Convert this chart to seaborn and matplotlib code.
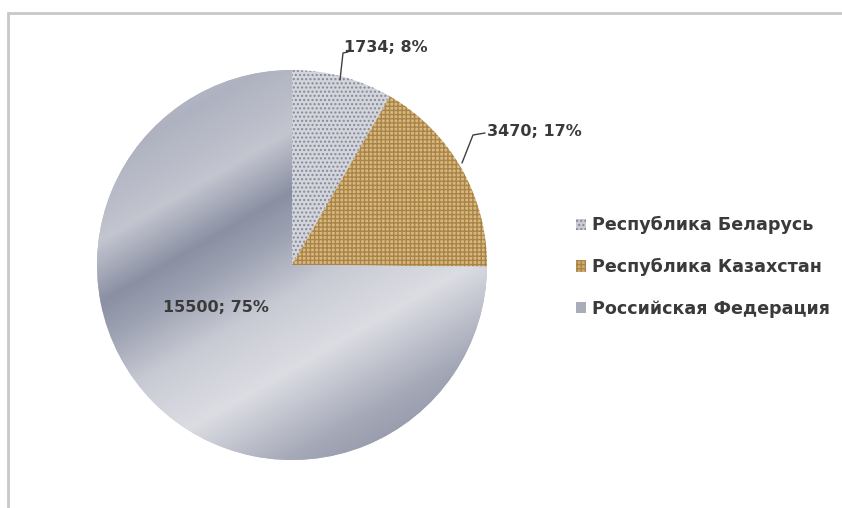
import numpy as np
import pandas as pd
import matplotlib
matplotlib.use("Agg")
import matplotlib.pyplot as plt
import seaborn as sns
from matplotlib.colors import LinearSegmentedColormap
from matplotlib.patches import Rectangle
from matplotlib.lines import Line2D

countries = ["Республика Беларусь", "Республика Казахстан", "Российская Федерация"]
values = [1734, 3470, 15500]
percents = [8, 17, 75]

df = pd.DataFrame({"country": countries, "value": values, "pct": percents})

sns.set_theme(style="white")
plt.rcParams['font.family'] = ['DejaVu Sans']
plt.rcParams['hatch.linewidth'] = 1.0

W, H = 842, 508
fig = plt.figure(figsize=(W / 100, H / 100), dpi=100)
fig.patch.set_facecolor("white")

# outer frame
frame = Rectangle((8 / W, -0.1), 1.2, (508 - 13) / H + 0.1, transform=fig.transFigure,
                  fill=False, edgecolor="#c8c8c8", linewidth=2.0)
fig.patches.append(frame)

cx, cy, R = 292, 265, 195
L = 215
ax = fig.add_axes([(cx - L) / W, (H - cy - L) / H, 2 * L / W, 2 * L / H])

face = ["#d3d5dc", "#d8b87f", "#b9bcc8"]
hatches = ["....", "++++", None]
hcol = ["#868995", "#a98448", None]
wedges, _ = ax.pie(df["value"], startangle=90, counterclock=False, radius=1,
                   colors=face, wedgeprops=dict(linewidth=0))
for w, h, hc in zip(wedges, hatches, hcol):
    if h:
        w.set_hatch(h)
        w.set_edgecolor(hc)
        w.set_linewidth(0)

lim = L / R
ax.set_aspect("equal")
ax.axis("off")

# metallic gradient for the largest slice
n = 400
xs = np.linspace(-1, 1, n)
X, Y = np.meshgrid(xs, xs)
ang = np.deg2rad(30)
t = -X * np.sin(ang) + Y * np.cos(ang)
t = (t - t.min()) / (t.max() - t.min())
cmap = LinearSegmentedColormap.from_list("metal", [
    (0.0, "#7f8598"), (0.18, "#a3a7b6"), (0.33, "#dcdde3"), (0.45, "#c9cbd4"),
    (0.55, "#9fa4b4"), (0.62, "#8a90a3"), (0.72, "#c3c5cf"), (0.85, "#aeb2c0"),
    (1.0, "#d0d2da")])
im = ax.imshow(t, extent=(-1, 1, -1, 1), origin="lower", cmap=cmap, zorder=1.5)
im.set_clip_path(wedges[2])
ax.set_xlim(-lim, lim)
ax.set_ylim(-lim, lim)

tc = "#3a3a3a"
fs = 11.5
def px(x, y):
    return ((x - cx) / R, (cy - y) / R)

# Belarus label
p0, p1, p2 = px(340, 80), px(343, 53), px(348, 52)
ax.add_line(Line2D([p0[0], p1[0], p2[0]], [p0[1], p1[1], p2[1]], color="#404040", lw=1.0, clip_on=False))
tx, ty = px(344, 47)
ax.text(tx, ty, f"{df.value[0]}; {df.pct[0]}%", ha="left", va="center", fontsize=fs,
        color=tc, fontweight="bold", clip_on=False)

# Kazakhstan label
p0, p1, p2 = px(462, 163), px(473, 135), px(485, 133)
ax.add_line(Line2D([p0[0], p1[0], p2[0]], [p0[1], p1[1], p2[1]], color="#404040", lw=1.0, clip_on=False))
tx, ty = px(487, 131)
ax.text(tx, ty, f"{df.value[1]}; {df.pct[1]}%", ha="left", va="center", fontsize=fs,
        color=tc, fontweight="bold", clip_on=False)

# Russia label
tx, ty = px(216, 307)
ax.text(tx, ty, f"{df.value[2]}; {df.pct[2]}%", ha="center", va="center", fontsize=fs,
        color=tc, fontweight="bold", zorder=3)

# legend
handles = [Rectangle((0, 0), 1, 1, facecolor=f, edgecolor=(hc or "#8a90a3"), hatch=h, linewidth=0)
           for f, h, hc in zip(["#c9cbd2", "#d0ac6c", "#a9adba"], hatches, hcol)]
leg = fig.legend(handles, df["country"], loc="center left",
                 bbox_to_anchor=(560 / W, (H - 267) / H), frameon=False,
                 handlelength=0.6, handleheight=0.6, handletextpad=0.35,
                 labelspacing=1.35, labelcolor=tc, prop=dict(weight="bold", size=12.6))

fig.savefig("out.png", dpi=100)
